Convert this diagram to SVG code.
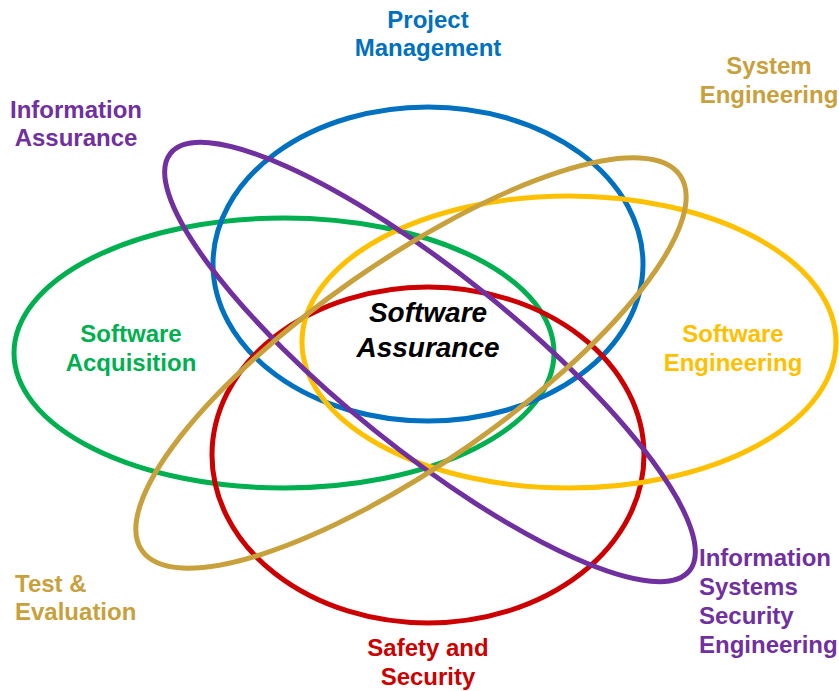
<svg xmlns="http://www.w3.org/2000/svg" width="839" height="691" viewBox="0 0 839 691">
<style>
.e{fill:none;stroke-width:5}
.t{font-family:"Liberation Sans",Arial,sans-serif;font-weight:bold;font-size:24px}
.c{text-anchor:middle}
.core{font-family:"Liberation Sans",Arial,sans-serif;font-weight:bold;font-style:italic;font-size:28px;fill:#000;text-anchor:middle}
</style>
<rect width="839" height="691" fill="#fff"/>
<g id="acquisition">
<ellipse class="e" cx="284" cy="353" rx="270" ry="135" stroke="#00B050"/>
<text class="t c" fill="#00B050" x="131" y="342">Software</text>
<text class="t c" fill="#00B050" x="131" y="371">Acquisition</text>
</g>
<g id="project">
<ellipse class="e" cx="428" cy="264" rx="215" ry="157" stroke="#0070C0"/>
<text class="t c" fill="#0070C0" x="428" y="28">Project</text>
<text class="t c" fill="#0070C0" x="428" y="56">Management</text>
</g>
<g id="safety">
<ellipse class="e" cx="428" cy="455" rx="216" ry="168" stroke="#CC0000"/>
<text class="t c" fill="#CC0000" x="428" y="656">Safety and</text>
<text class="t c" fill="#CC0000" x="428" y="685">Security</text>
</g>
<g id="swe">
<ellipse class="e" cx="569" cy="342" rx="267" ry="146" stroke="#FFC000"/>
<text class="t c" fill="#FFC000" x="733" y="342">Software</text>
<text class="t c" fill="#FFC000" x="733" y="371">Engineering</text>
</g>
<g id="ia">
<ellipse class="e" cx="430" cy="362" rx="333" ry="88" transform="rotate(38.8 430 362)" stroke="#7030A0"/>
<text class="t c" fill="#7030A0" x="76" y="118">Information</text>
<text class="t c" fill="#7030A0" x="76" y="146">Assurance</text>
<text class="t" fill="#7030A0" x="699" y="566">Information</text>
<text class="t" fill="#7030A0" x="699" y="595">Systems</text>
<text class="t" fill="#7030A0" x="699" y="624">Security</text>
<text class="t" fill="#7030A0" x="699" y="653">Engineering</text>
</g>
<g id="syseng">
<ellipse class="e" cx="411" cy="363" rx="328" ry="101" transform="rotate(-34.9 411 363)" stroke="#C8A03C"/>
<text class="t c" fill="#C8A03C" x="769" y="74">System</text>
<text class="t c" fill="#C8A03C" x="769" y="103">Engineering</text>
<text class="t" fill="#C8A03C" x="15" y="592">Test &amp;</text>
<text class="t" fill="#C8A03C" x="15" y="620">Evaluation</text>
</g>
<g id="swa">
<text class="core" x="428" y="322">Software</text>
<text class="core" x="428" y="357">Assurance</text>
</g>
<g id="connectors"/>
</svg>
